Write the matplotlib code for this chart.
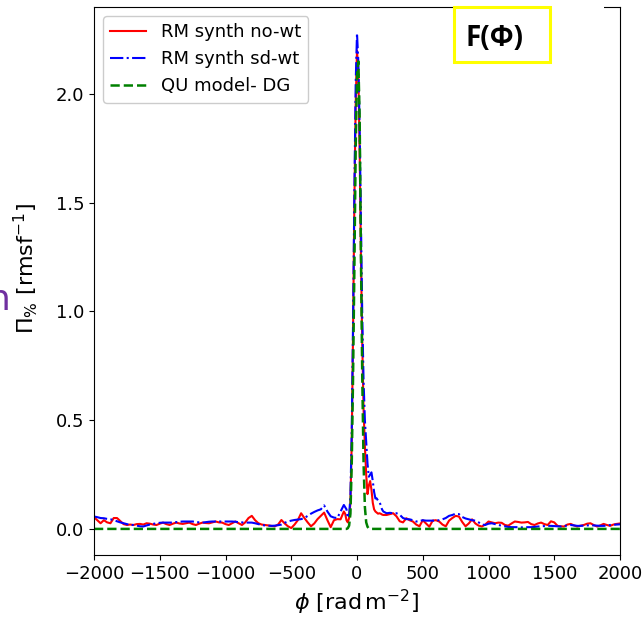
import numpy as np
import matplotlib
matplotlib.use("Agg")
import matplotlib.pyplot as plt
from matplotlib.patches import Rectangle

# ---------------- data ----------------
phi_left = np.arange(-2000, -99, 25)      # -2000 .. -100
phi_core = np.arange(-90, 201, 10)        # -90 .. 200
phi_right = np.arange(225, 2001, 25)      # 225 .. 2000

red_left = [0.054, 0.040, 0.026, 0.040, 0.030, 0.026, 0.050, 0.050, 0.036, 0.022,
            0.018, 0.020, 0.018, 0.022, 0.023, 0.020, 0.026, 0.024, 0.020, 0.018,
            0.024, 0.029, 0.022, 0.018, 0.024, 0.029, 0.025, 0.023, 0.026, 0.029,
            0.022, 0.018, 0.024, 0.029, 0.027, 0.026, 0.030, 0.034, 0.030, 0.029,
            0.022, 0.018, 0.026, 0.034, 0.026, 0.018, 0.030, 0.050, 0.060, 0.040,
            0.026, 0.020, 0.018, 0.016, 0.014, 0.012, 0.020, 0.041, 0.025, 0.012,
            0.004, 0.020, 0.040, 0.072, 0.050, 0.030, 0.012, 0.025, 0.045, 0.060,
            0.075, 0.040, 0.008, 0.040, 0.045, 0.044, 0.080]
red_core = [0.07, 0.04, 0.03, 0.05, 0.12, 0.40, 0.90, 1.50, 1.95, 2.20,
            2.10, 1.75, 1.25, 0.85, 0.55, 0.38, 0.25, 0.16, 0.20, 0.22,
            0.18, 0.12, 0.09, 0.08, 0.075, 0.07, 0.072, 0.07, 0.066, 0.064]
red_right = [0.064, 0.068, 0.072, 0.058, 0.035, 0.030, 0.049, 0.040, 0.034, 0.020,
             0.012, 0.040, 0.025, 0.010, 0.038, 0.040, 0.034, 0.020, 0.012, 0.038,
             0.050, 0.060, 0.057, 0.032, 0.012, 0.025, 0.044, 0.025, 0.015, 0.011,
             0.020, 0.034, 0.030, 0.026, 0.029, 0.028, 0.018, 0.015, 0.025, 0.034,
             0.032, 0.029, 0.030, 0.032, 0.022, 0.018, 0.025, 0.029, 0.022, 0.018,
             0.035, 0.030, 0.014, 0.012, 0.011, 0.020, 0.023, 0.016, 0.011, 0.015,
             0.018, 0.024, 0.026, 0.018, 0.011, 0.016, 0.023, 0.018, 0.014, 0.020,
             0.023, 0.025]

blue_left = [0.057, 0.054, 0.050, 0.049, 0.046, 0.044, 0.041, 0.035, 0.030, 0.026,
             0.022, 0.018, 0.018, 0.015, 0.012, 0.011, 0.016, 0.020, 0.023, 0.026,
             0.028, 0.029, 0.029, 0.029, 0.029, 0.031, 0.033, 0.034, 0.034, 0.034,
             0.034, 0.032, 0.030, 0.029, 0.031, 0.033, 0.034, 0.034, 0.034, 0.034,
             0.034, 0.034, 0.034, 0.033, 0.031, 0.030, 0.029, 0.029, 0.029, 0.026,
             0.022, 0.018, 0.016, 0.015, 0.014, 0.015, 0.017, 0.020, 0.028, 0.034,
             0.038, 0.041, 0.043, 0.045, 0.050, 0.060, 0.070, 0.078, 0.085, 0.090,
             0.108, 0.080, 0.058, 0.052, 0.050, 0.080, 0.110]
blue_core = [0.10, 0.09, 0.05, 0.06, 0.15, 0.45, 0.95, 1.55, 2.05, 2.28,
             2.15, 1.85, 1.40, 0.98, 0.68, 0.50, 0.40, 0.30, 0.24, 0.25,
             0.26, 0.22, 0.17, 0.14, 0.14, 0.13, 0.125, 0.11, 0.09, 0.08]
blue_right = [0.072, 0.074, 0.072, 0.072, 0.065, 0.050, 0.045, 0.044, 0.040, 0.034,
              0.036, 0.040, 0.038, 0.038, 0.038, 0.038, 0.040, 0.044, 0.050, 0.060,
              0.064, 0.070, 0.068, 0.055, 0.048, 0.044, 0.040, 0.038, 0.030, 0.020,
              0.018, 0.024, 0.026, 0.022, 0.018, 0.015, 0.012, 0.009, 0.008, 0.008,
              0.008, 0.007, 0.007, 0.008, 0.008, 0.009, 0.011, 0.012, 0.013, 0.014,
              0.014, 0.013, 0.012, 0.011, 0.013, 0.016, 0.018, 0.016, 0.014, 0.014,
              0.015, 0.016, 0.017, 0.016, 0.015, 0.014, 0.014, 0.015, 0.018, 0.019,
              0.020, 0.021]

green_left = [0.0] * len(phi_left)
green_core = [0.0, 0.0, 0.003, 0.015, 0.07, 0.30, 0.70, 1.20, 1.75, 2.08,
              2.15, 1.90, 1.25, 0.70, 0.30, 0.10, 0.03, 0.01, 0.002, 0.0,
              0.0, 0.0, 0.0, 0.0, 0.0, 0.0, 0.0, 0.0, 0.0, 0.0]
green_right = [0.0] * len(phi_right)

labels = ["RM synth no-wt", "RM synth sd-wt", "QU model- DG"]
xticks = [-2000, -1500, -1000, -500, 0, 500, 1000, 1500, 2000]
yticks = [0.0, 0.5, 1.0, 1.5, 2.0]

phi = np.concatenate([phi_left, phi_core, phi_right])
red = np.concatenate([red_left, red_core, red_right])
blue = np.concatenate([blue_left, blue_core, blue_right])
green = np.concatenate([green_left, green_core, green_right])

# ---------------- figure ----------------
W, H = 644, 622
fig = plt.figure(figsize=(W / 100, H / 100), dpi=100)
ax = fig.add_axes([94 / W, 1 - 555 / H, (620 - 94) / W, (555 - 7) / H])

ax.plot(phi, red, color="red", lw=1.5, ls="-", label=labels[0])
ax.plot(phi, blue, color="blue", lw=1.5, ls="-.", label=labels[1])
ax.plot(phi, green, color="green", lw=1.8, ls="--", label=labels[2])

ax.set_xlim(-2000, 2000)
ax.set_ylim(-0.12, 2.40)
ax.set_xticks(xticks)
ax.set_yticks(yticks)
ax.tick_params(labelsize=13)
ax.set_xlabel(r"$\phi$ [rad$\,$m$^{-2}$]", fontsize=16)
ax.set_ylabel(r"$\Pi_{\%}$ [rmsf$^{-1}$]", fontsize=16)
ax.yaxis.set_label_coords(-0.103, 0.523)

leg = ax.legend(loc="upper left", fontsize=13, framealpha=1.0)

# white patch over part of top spine
fig.patches.append(Rectangle((552 / W, 1 - 14 / H), 52 / W, 14 / H,
                             transform=fig.transFigure, facecolor="white",
                             edgecolor="none", zorder=10))
# yellow box label
fig.patches.append(Rectangle((454 / W, 1 - 62 / H), 96 / W, 55 / H,
                             transform=fig.transFigure, facecolor="white",
                             edgecolor="#FFFF00", lw=2.2, zorder=11))
fig.text(495 / W, 1 - 38 / H, "F(Φ)", fontsize=20, fontweight="bold",
         family="Open Sans", ha="center", va="center", zorder=12)

# clipped purple letter at left edge
fig.text(11 / W, 1 - 300 / H, "n", fontsize=26, color="#7030A0",
         ha="right", va="center")

fig.savefig("out.png", dpi=100)
